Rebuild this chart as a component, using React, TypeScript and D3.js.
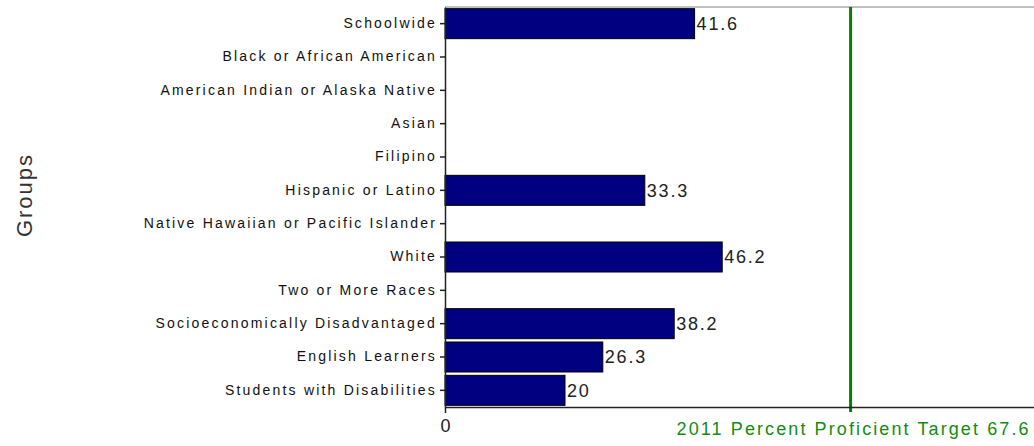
import React, { useRef, useEffect } from 'react';
import * as d3 from 'd3';

const groups = [
  'Schoolwide',
  'Black or African American',
  'American Indian or Alaska Native',
  'Asian',
  'Filipino',
  'Hispanic or Latino',
  'Native Hawaiian or Pacific Islander',
  'White',
  'Two or More Races',
  'Socioeconomically Disadvantaged',
  'English Learners',
  'Students with Disabilities',
];
// null = no data reported for that group
const percents: (number | null)[] = [41.6, null, null, null, null, 33.3, null, 46.2, null, 38.2, 26.3, 20];
const xTicks = [0];
const target = 67.6;
const targetLabel = '2011 Percent Proficient Target 67.6';
const yTitle = 'Groups';

const FONT = '"Liberation Sans", Arial, sans-serif';

function App() {
  const ref = useRef<SVGSVGElement>(null);

  useEffect(() => {
    drawChart();
  }, []);

  function drawChart() {
    const svg = d3.select(ref.current);
    svg.selectAll('*').remove();

    const width = 1034;
    const height = 446;
    const margin = { top: 7, right: 0, bottom: 39, left: 445 };
    const plotH = height - margin.top - margin.bottom;

    const x = d3.scaleLinear().domain([0, 100]).range([0, 600]);
    const y = d3
      .scaleBand()
      .domain(groups)
      .range([0, plotH])
      .paddingInner(0.1)
      .paddingOuter(0.05);

    const g = svg
      .append('g')
      .attr('transform', 'translate(' + margin.left + ',' + margin.top + ')');

    // top frame line
    g.append('line')
      .attr('x1', 0)
      .attr('x2', width - margin.left)
      .attr('y1', 0)
      .attr('y2', 0)
      .attr('stroke', '#808080')
      .attr('stroke-width', 1);

    // bars
    const rows = groups.map((name, i) => ({ name, value: percents[i] }));
    g.selectAll('rect.bar')
      .data(rows.filter((d) => d.value !== null))
      .enter()
      .append('rect')
      .attr('class', 'bar')
      .attr('x', x(0))
      .attr('y', (d) => y(d.name) as number)
      .attr('width', (d) => x(d.value as number) - x(0))
      .attr('height', y.bandwidth())
      .attr('fill', '#000080')
      .attr('stroke', '#000')
      .attr('stroke-width', 1);

    g.selectAll('text.val')
      .data(rows.filter((d) => d.value !== null))
      .enter()
      .append('text')
      .attr('class', 'val')
      .attr('x', (d) => x(d.value as number) + 2)
      .attr('y', (d) => (y(d.name) as number) + y.bandwidth() / 2)
      .attr('dy', '0.36em')
      .attr('font-family', FONT)
      .attr('font-size', 18)
      .attr('letter-spacing', 1.8)
      .attr('fill', '#222')
      .text((d) => String(d.value));

    // target line
    g.append('line')
      .attr('x1', x(target))
      .attr('x2', x(target))
      .attr('y1', 0)
      .attr('y2', plotH + 5)
      .attr('stroke', '#008000')
      .attr('stroke-width', 3);

    g.append('text')
      .attr('x', x(target) + 3)
      .attr('y', plotH + 28)
      .attr('text-anchor', 'middle')
      .attr('font-family', FONT)
      .attr('font-size', 18)
      .attr('letter-spacing', 2.1)
      .attr('fill', '#128c12')
      .text(targetLabel);

    // x axis
    const xAxis = g
      .append('g')
      .attr('transform', 'translate(0,' + plotH + ')')
      .call(d3.axisBottom(x).tickValues(xTicks).tickSize(6).tickSizeOuter(0).tickPadding(6));
    xAxis.select('.domain').attr('stroke', '#222').attr('stroke-width', 1.5);
    xAxis.selectAll('.tick line').attr('stroke', '#222').attr('stroke-width', 1.5);
    xAxis
      .selectAll('.tick text')
      .attr('font-family', FONT)
      .attr('font-size', 18)
      .attr('fill', '#222');

    // y axis
    const yAxis = g
      .append('g')
      .call(d3.axisLeft(y).tickSize(5).tickSizeOuter(0).tickPadding(3));
    yAxis.select('.domain').attr('stroke', '#222').attr('stroke-width', 1.5);
    yAxis.selectAll('.tick line').attr('stroke', '#222').attr('stroke-width', 1.5);
    yAxis
      .selectAll('.tick text')
      .attr('font-family', FONT)
      .attr('font-size', 14)
      .attr('letter-spacing', 2.2)
      .attr('fill', '#111');

    // y title
    svg
      .append('text')
      .attr('transform', 'translate(' + 32 + ',' + 195 + ') rotate(-90)')
      .attr('text-anchor', 'middle')
      .attr('font-family', FONT)
      .attr('font-size', 22)
      .attr('letter-spacing', 2)
      .attr('fill', '#333')
      .text(yTitle);
  }

  return (
    <div style={{ position: 'absolute', left: 0, top: 0 }}>
      <svg ref={ref} width={1034} height={446} style={{ display: 'block', background: '#fff' }} />
    </div>
  );
}

export default App;
